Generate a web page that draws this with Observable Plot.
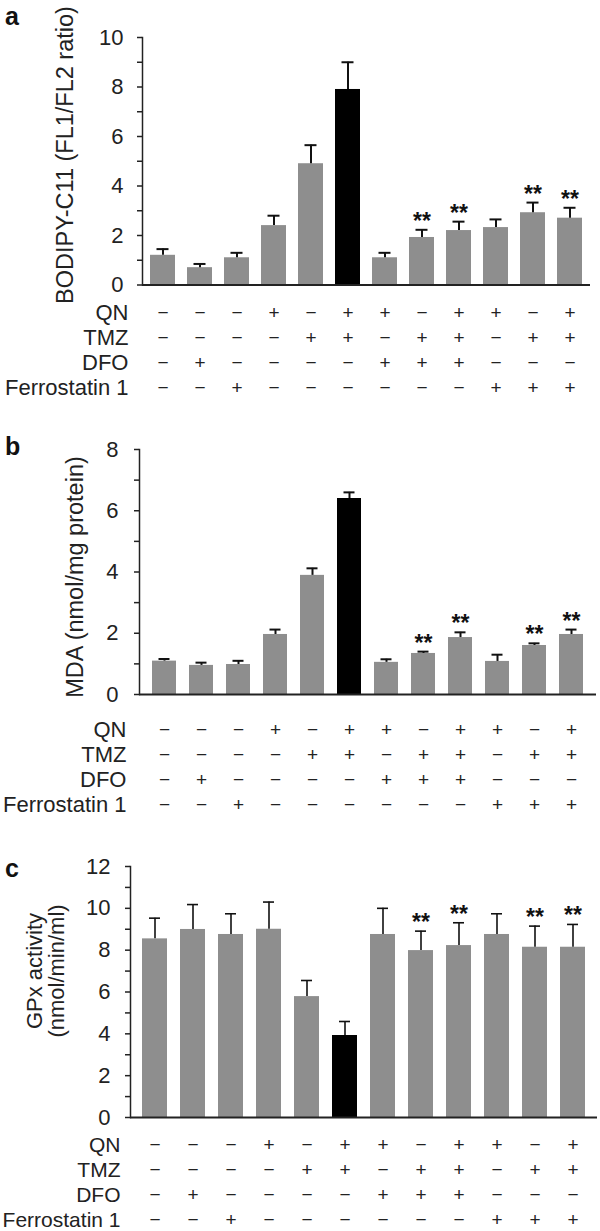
<!DOCTYPE html>
<html>
<head>
<meta charset="utf-8">
<script src="https://cdn.jsdelivr.net/npm/d3@7"></script>
<script src="https://cdn.jsdelivr.net/npm/@observablehq/plot@0.6"></script>
<style>
  body { margin: 0; background: #fff; font-family: Arial, "Liberation Sans", sans-serif; }
  #root { position: relative; width: 600px; height: 1231px; overflow: hidden; background: #fff; }
  .abs { position: absolute; }
  .letter { font-weight: bold; font-size: 25px; color: #111; line-height: 1; }
  .ylab { font-size: 23.5px; color: #222; white-space: nowrap; text-align: center; line-height: 22px;
          transform: translate(-50%, -50%) rotate(-90deg); }
  .ylab.two { font-size: 22px; }
</style>
</head>
<body>
<div id="root"></div>
<script>
// ---------- data ----------
const conditions = ["1","2","3","4","5","6","7","8","9","10","11","12"];
const treatments = ["QN", "TMZ", "DFO", "Ferrostatin 1"];
const QN   = [0,0,0,1,0,1,1,0,1,1,0,1];
const TMZ  = [0,0,0,0,1,1,0,1,1,0,1,1];
const DFO  = [0,1,0,0,0,0,1,1,1,0,0,0];
const FER1 = [0,0,1,0,0,0,0,0,0,1,1,1];
const significant = [0,0,0,0,0,0,0,1,1,0,1,1];
const highlighted = [0,0,0,0,0,1,0,0,0,0,0,0];

// panel a: BODIPY-C11 ratio (mean, mean + error)
const bodipyMean  = [1.2, 0.7, 1.1, 2.4, 4.9, 7.9, 1.1, 1.92, 2.2, 2.32, 2.92, 2.7];
const bodipyUpper = [1.45, 0.85, 1.3, 2.8, 5.65, 9.0, 1.3, 2.23, 2.56, 2.65, 3.33, 3.12];
// panel b: MDA
const mdaMean  = [1.09, 0.95, 0.98, 1.96, 3.89, 6.4, 1.05, 1.34, 1.86, 1.08, 1.6, 1.96];
const mdaUpper = [1.16, 1.04, 1.1, 2.12, 4.12, 6.6, 1.15, 1.4, 2.03, 1.3, 1.67, 2.12];
// panel c: GPx activity
const gpxMean  = [8.54, 8.99, 8.75, 9.0, 5.78, 3.92, 8.75, 7.98, 8.22, 8.75, 8.14, 8.14];
const gpxUpper = [9.53, 10.18, 9.74, 10.3, 6.55, 4.59, 10.0, 8.91, 9.31, 9.74, 9.15, 9.23];

const FONT = 'Arial, "Liberation Sans", sans-serif';
const root = document.getElementById("root");

function place(node, left, top) {
  const d = document.createElement("div");
  d.className = "abs";
  d.style.left = left + "px";
  d.style.top = top + "px";
  d.appendChild(node);
  root.appendChild(d);
}
function htmlText(cls, html, left, top) {
  const d = document.createElement("div");
  d.className = "abs " + cls;
  d.style.left = left + "px";
  d.style.top = top + "px";
  d.innerHTML = html;
  root.appendChild(d);
}

function barPanel(o) {
  const rows = conditions.map((c, i) => ({
    cond: c, mean: o.mean[i], upper: o.upper[i],
    sig: significant[i], fill: highlighted[i] ? "#000" : "#8e8e8e"
  }));
  return Plot.plot({
    width: 600, height: o.height,
    marginTop: o.marginTop, marginBottom: o.marginBottom,
    marginLeft: o.marginLeft, marginRight: o.marginRight,
    style: { fontFamily: FONT, fontSize: "22px", color: "#222", background: "transparent" },
    x: { type: "band", domain: conditions, paddingInner: o.paddingInner, paddingOuter: o.paddingOuter, axis: null },
    y: { domain: [0, o.yMax] },
    color: { type: "identity" },
    marks: [
      Plot.barY(rows, { x: "cond", y: "mean", fill: "fill" }),
      Plot.ruleX(rows, { x: "cond", y1: "mean", y2: "upper", stroke: "#111", strokeWidth: o.errWidth }),
      Plot.tickY(rows, { x: "cond", y: "upper", stroke: "#111", strokeWidth: o.errWidth, inset: o.capInset }),
      Plot.text(rows.filter(d => d.sig), { x: "cond", y: "upper", text: () => "**",
        lineAnchor: "bottom", dy: -1, fontSize: 23, fontWeight: "bold", fill: "#111" }),
      Plot.axisY({ ticks: d3.range(0, o.yMax + 1), tickSize: 5, tickPadding: o.tickPadding, fontSize: 22,
        tickFormat: d => (d % 2 ? "" : String(d)), label: null, stroke: "#222", strokeWidth: 1.5, fill: "#222" }),
      Plot.frame({ anchor: "left", stroke: "#222", strokeWidth: 1.5 }),
      Plot.ruleY([0], { stroke: "#222", strokeWidth: 1.8 })
    ]
  });
}

function tablePanel(o) {
  const cols = [QN, TMZ, DFO, FER1];
  const rows = [];
  treatments.forEach((t, j) => conditions.forEach((c, i) => {
    rows.push({ cond: c, treat: t, sign: cols[j][i] ? "+" : "\u2212" });
  }));
  return Plot.plot({
    width: 600, height: o.height,
    marginTop: 0, marginBottom: 0, marginLeft: o.marginLeft, marginRight: o.marginRight,
    style: { fontFamily: FONT, fontSize: o.fontSize + "px", color: "#222", background: "transparent" },
    x: { type: "band", domain: conditions, paddingInner: o.paddingInner, paddingOuter: o.paddingOuter, axis: null },
    y: { type: "band", domain: treatments, padding: 0 },
    marks: [
      Plot.axisY({ tickSize: 0, tickPadding: o.tickPadding, label: null, fill: "#222", fontSize: o.fontSize }),
      Plot.text(rows, { x: "cond", y: "treat", text: "sign", fontSize: 19, fill: "#222" })
    ]
  });
}

// ---------- panel a ----------
place(barPanel({ height: 300, marginTop: 37, marginBottom: 15.5, marginLeft: 142, marginRight: 10,
  paddingInner: 0.33, paddingOuter: 0.19, yMax: 10, mean: bodipyMean, upper: bodipyUpper,
  tickPadding: 14, capInset: 6.5, errWidth: 2 }), 0, 0);
place(tablePanel({ height: 100, marginLeft: 142, marginRight: 10, paddingInner: 0.33, paddingOuter: 0.19,
  tickPadding: 14, fontSize: 22 }), 0, 300);
htmlText("letter", "a", 5, 4);
htmlText("ylab", "BODIPY-C11 (FL1/FL2 ratio)", 65, 155);

// ---------- panel b ----------
place(barPanel({ height: 300, marginTop: 39, marginBottom: 16, marginLeft: 139, marginRight: 4,
  paddingInner: 0.35, paddingOuter: 0.19, yMax: 8, mean: mdaMean, upper: mdaUpper,
  tickPadding: 16, capInset: 6.5, errWidth: 2 }), 0, 410);
place(tablePanel({ height: 103, marginLeft: 139, marginRight: 4, paddingInner: 0.35, paddingOuter: 0.19,
  tickPadding: 13, fontSize: 22 }), 0, 715);
htmlText("letter", "b", 5, 434);
htmlText("ylab", "MDA (nmol/mg protein)", 75, 577);

// ---------- panel c ----------
place(barPanel({ height: 303, marginTop: 36, marginBottom: 16, marginLeft: 130, marginRight: 3,
  paddingInner: 0.33, paddingOuter: 0.2, yMax: 12, mean: gpxMean, upper: gpxUpper,
  tickPadding: 15, capInset: 7, errWidth: 1.6 }), 0, 830);
place(tablePanel({ height: 100, marginLeft: 130, marginRight: 3, paddingInner: 0.33, paddingOuter: 0.2,
  tickPadding: 10, fontSize: 21 }), 0, 1132);
htmlText("letter", "c", 5, 856);
htmlText("ylab two", "GPx activity<br>(nmol/min/ml)", 46, 971);
</script>
</body>
</html>
